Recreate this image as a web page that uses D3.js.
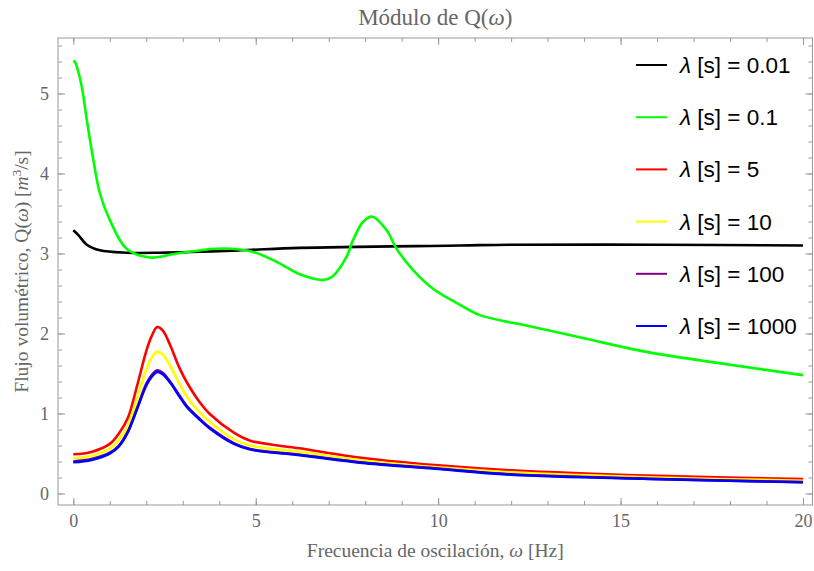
<!DOCTYPE html>
<html lang="es">
  <head>
    <meta charset="UTF-8" />
    <title>Módulo de Q(ω)</title>
    <script src="https://d3js.org/d3.v7.min.js"></script>
    <style>
      body {
        margin: 0;
        background: white;
      }
      .serif {
        font-family: "Liberation Serif", "Times New Roman", serif;
        fill: #666;
      }
      .frame line {
        stroke: #999;
      }
      .frame text {
        font-family: "Liberation Serif", "Times New Roman", serif;
        font-size: 18px;
        fill: #666;
      }
      .legend text {
        font-family: "Liberation Sans", Arial, sans-serif;
        font-size: 22.5px;
        fill: #000;
      }
    </style>
  </head>
  <body>
    <svg width="814" height="571"></svg>
    <script>
      // frequency grids (Hz)
      const wBlack = [0, 0.14, 0.37, 0.73, 1.46, 2.37, 4.57, 6.2, 10.6, 12, 16, 20];
      const wGreen = [0, 0.05, 0.12, 0.23, 0.37, 0.55, 0.73, 1.0, 1.46, 2.1, 2.83, 3.93, 4.57, 5.0,
        5.6, 6.21, 6.85, 7.12, 7.49, 7.67, 7.95, 8.2, 8.59, 8.86, 9.32, 9.86, 10.59, 11.14,
        12.51, 14, 15.71, 18, 20];
      const wLow = [0, 0.5, 1, 1.25, 1.5, 1.75, 2, 2.15, 2.3, 2.45, 2.65, 2.9, 3.1, 3.45, 3.75,
        4.4, 4.85, 6.2, 8, 9.9, 12, 16, 20];

      // |Q| values, m^3/s
      const q001 = [3.29, 3.23, 3.11, 3.04, 3.01, 3.01, 3.04, 3.07, 3.1, 3.11, 3.11, 3.1];
      const q01 = [5.41, 5.39, 5.3, 5.09, 4.67, 4.17, 3.75, 3.42, 3.06, 2.95, 3.0, 3.06, 3.05, 3.01,
        2.89, 2.74, 2.67, 2.72, 2.96, 3.17, 3.4, 3.46, 3.29, 3.06, 2.79, 2.56, 2.36, 2.23,
        2.09, 1.94, 1.77, 1.61, 1.48];
      const q5 = [0.49, 0.52, 0.62, 0.75, 0.95, 1.35, 1.78, 1.97, 2.08, 2.04, 1.86, 1.58, 1.4,
        1.15, 0.99, 0.76, 0.66, 0.565, 0.44, 0.355, 0.29, 0.22, 0.18];
      const q10 = [0.44, 0.47, 0.56, 0.67, 0.85, 1.19, 1.55, 1.7, 1.77, 1.74, 1.6, 1.38, 1.22,
        1.02, 0.89, 0.68, 0.6, 0.52, 0.41, 0.33, 0.265, 0.2, 0.16];
      const q100 = [0.4, 0.43, 0.51, 0.6, 0.78, 1.07, 1.37, 1.48, 1.54, 1.51, 1.4, 1.23, 1.1,
        0.94, 0.82, 0.63, 0.555, 0.485, 0.385, 0.315, 0.24, 0.182, 0.142];
      const q1000 = [0.39, 0.42, 0.5, 0.59, 0.77, 1.06, 1.35, 1.46, 1.52, 1.49, 1.39, 1.22, 1.09,
        0.93, 0.81, 0.62, 0.55, 0.48, 0.38, 0.31, 0.235, 0.18, 0.14];

      const seriesLabels = ["0.01", "0.1", "5", "10", "100", "1000"];
      const seriesColors = ["#000000", "#00ff00", "#ff0000", "#ffff00", "#800080", "#0000ff"];
      const seriesW = [wBlack, wGreen, wLow, wLow, wLow, wLow];
      const seriesQ = [q001, q01, q5, q10, q100, q1000];

      const xMajor = [0, 5, 10, 15, 20];
      const xMinor = d3.range(0, 21, 1);
      const yMajor = [0, 1, 2, 3, 4, 5];
      const yMinor = d3.range(0, 5.61, 0.2);

      const frameL = 58, frameR = 812.5, frameT = 38, frameB = 505;

      const svg = d3.select("svg");
      const x = d3.scaleLinear().domain([0, 20]).range([73.3, 803]);
      const y = d3.scaleLinear().domain([0, 5]).range([493.5, 93.5]);
      const fmt = d3.format("d");

      // ticks on all four sides, labels only bottom/left
      const bottomAxis = d3.axisBottom(x).tickValues(xMajor).tickSizeInner(-7).tickSizeOuter(0).tickPadding(9).tickFormat(fmt);
      const bottomMinor = d3.axisBottom(x).tickValues(xMinor).tickSizeInner(-4).tickSizeOuter(0).tickFormat("");
      const topAxis = d3.axisTop(x).tickValues(xMajor).tickSizeInner(-7).tickSizeOuter(0).tickFormat("");
      const topMinor = d3.axisTop(x).tickValues(xMinor).tickSizeInner(-4).tickSizeOuter(0).tickFormat("");
      const leftAxis = d3.axisLeft(y).tickValues(yMajor).tickSizeInner(-7).tickSizeOuter(0).tickPadding(9).tickFormat(fmt);
      const leftMinor = d3.axisLeft(y).tickValues(yMinor).tickSizeInner(-4).tickSizeOuter(0).tickFormat("");
      const rightAxis = d3.axisRight(y).tickValues(yMajor).tickSizeInner(-7).tickSizeOuter(0).tickFormat("");
      const rightMinor = d3.axisRight(y).tickValues(yMinor).tickSizeInner(-4).tickSizeOuter(0).tickFormat("");

      [[bottomMinor, 0, frameB], [topMinor, 0, frameT], [leftMinor, frameL, 0], [rightMinor, frameR, 0],
       [bottomAxis, 0, frameB], [topAxis, 0, frameT], [leftAxis, frameL, 0], [rightAxis, frameR, 0]]
        .forEach(([ax, tx, ty]) => {
          const g = svg.append("g").attr("class", "frame")
            .attr("transform", `translate(${tx},${ty})`).call(ax);
          g.select(".domain").remove();
        });

      // frame lines
      svg.append("rect")
        .attr("x", frameL).attr("y", frameT)
        .attr("width", frameR - frameL).attr("height", frameB - frameT)
        .attr("fill", "none").attr("stroke", "#999").attr("stroke-width", 1);

      // curves
      svg.append("clipPath").attr("id", "plot")
        .append("rect").attr("x", frameL).attr("y", frameT)
        .attr("width", frameR - frameL).attr("height", frameB - frameT);

      const line = d3.line().curve(d3.curveCatmullRom.alpha(0.5));
      seriesQ.forEach((qs, i) => {
        const pts = qs.map((q, j) => [x(seriesW[i][j]), y(q)]);
        svg.append("path")
          .attr("d", line(pts))
          .attr("fill", "none")
          .attr("stroke", seriesColors[i])
          .attr("stroke-width", 2.6)
          .attr("clip-path", "url(#plot)");
      });

      // title and axis labels
      const title = svg.append("text").attr("class", "serif")
        .attr("x", (frameL + frameR) / 2).attr("y", 25)
        .attr("text-anchor", "middle").style("font-size", "23px");
      title.append("tspan").text("Módulo de Q(");
      title.append("tspan").attr("font-style", "italic").text("ω");
      title.append("tspan").text(")");

      const xTitle = svg.append("text").attr("class", "serif")
        .attr("x", (frameL + frameR) / 2).attr("y", 557)
        .attr("text-anchor", "middle").style("font-size", "19.5px");
      xTitle.append("tspan").text("Frecuencia de oscilación, ");
      xTitle.append("tspan").attr("font-style", "italic").text("ω");
      xTitle.append("tspan").text(" [Hz]");

      const yTitle = svg.append("text").attr("class", "serif")
        .attr("transform", `translate(28,${(frameT + frameB) / 2}) rotate(-90)`)
        .attr("text-anchor", "middle").style("font-size", "19.5px");
      yTitle.append("tspan").text("Flujo volumétrico, Q(");
      yTitle.append("tspan").attr("font-style", "italic").text("ω");
      yTitle.append("tspan").text(") [");
      yTitle.append("tspan").attr("font-style", "italic").text("m");
      yTitle.append("tspan").attr("dy", -7).style("font-size", "13px").text("3");
      yTitle.append("tspan").attr("dy", 7).text("/s]");

      // legend
      const legend = svg.append("g").attr("class", "legend");
      seriesLabels.forEach((lab, i) => {
        const ly = 65 + i * 52.2;
        legend.append("line")
          .attr("x1", 636).attr("x2", 667).attr("y1", ly).attr("y2", ly)
          .attr("stroke", seriesColors[i]).attr("stroke-width", 2);
        const t = legend.append("text").attr("x", 680).attr("y", ly + 8);
        t.append("tspan").attr("font-style", "italic").text("λ");
        t.append("tspan").text(" [s] = " + lab);
      });
    </script>
  </body>
</html>
